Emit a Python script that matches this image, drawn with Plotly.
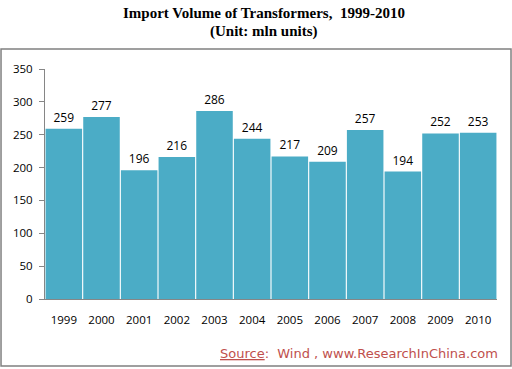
import plotly.graph_objects as go

years = ["1999", "2000", "2001", "2002", "2003", "2004", "2005", "2006", "2007", "2008", "2009", "2010"]
volumes = [259, 277, 196, 216, 286, 244, 217, 209, 257, 194, 252, 253]
y_ticks = [0, 50, 100, 150, 200, 250, 300, 350]
title_lines = ["Import Volume of Transformers,  1999-2010", "(Unit: mln units)"]

fig = go.Figure()
fig.add_trace(go.Bar(
    x=years, y=volumes,
    marker=dict(color="#4BACC6", line=dict(width=0)),
    text=[str(v) for v in volumes],
    textposition="outside",
    textfont=dict(family="Open Sans, Liberation Sans, sans-serif", size=12, color="#000000"),
    cliponaxis=False,
))

title_font = dict(family="Liberation Serif, DejaVu Serif, serif", size=15, color="#000000")
tick_font = dict(family="Open Sans, Liberation Sans, sans-serif", size=11.5, color="#000000")

fig.update_layout(
    width=512, height=369,
    margin=dict(l=45, r=15, t=69, b=70),
    paper_bgcolor="white", plot_bgcolor="white",
    bargap=0.03,
    showlegend=False,
    xaxis=dict(
        showline=True, linecolor="#868686", linewidth=1,
        ticks="", showgrid=False, automargin=False,
        ticklabelstandoff=10,
        tickfont=tick_font,
    ),
    yaxis=dict(
        range=[0, 350], tickvals=y_ticks,
        showline=True, linecolor="#868686", linewidth=1,
        ticks="outside", ticklen=5, tickcolor="#868686",
        showgrid=False, zeroline=False, automargin=False,
        ticklabelstandoff=4,
        tickfont=tick_font,
    ),
    shapes=[dict(
        type="rect", xref="paper", yref="paper",
        x0=-0.0973, x1=1.031, y0=-0.2913, y1=1.087,
        line=dict(color="#808080", width=1.5), fillcolor="rgba(0,0,0,0)",
    )],
    annotations=[
        dict(xref="paper", yref="paper", x=0.4845, y=1.2435, xanchor="center", yanchor="middle",
             showarrow=False, text="<b>" + title_lines[0] + "</b>", font=title_font),
        dict(xref="paper", yref="paper", x=0.4845, y=1.161, xanchor="center", yanchor="middle",
             showarrow=False, text="<b>" + title_lines[1] + "</b>", font=title_font),
        dict(xref="paper", yref="paper", x=1.007, y=-0.235,
             xanchor="right", yanchor="middle", showarrow=False,
             text="<u>Source</u>:  Wind , www.ResearchInChina.com",
             font=dict(family="DejaVu Sans, sans-serif", size=13, color="#C0504D")),
    ],
)

fig.write_html("out.html", config={"displayModeBar": False},
               post_script="document.body.style.margin='0px';document.body.style.padding='0px';")
